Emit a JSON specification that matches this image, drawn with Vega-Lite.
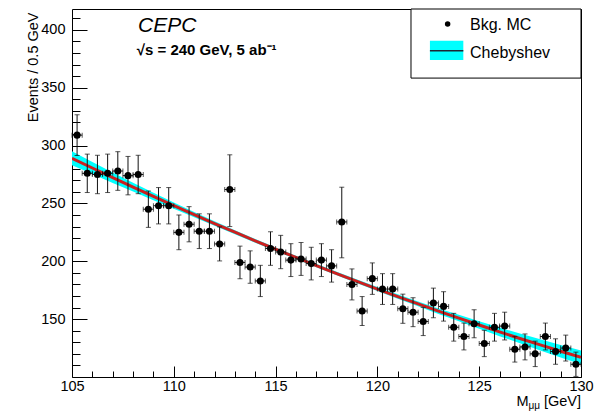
{
  "$schema": "https://vega.github.io/schema/vega-lite/v6.json",
  "width": 509,
  "height": 368,
  "autosize": {"type": "none"},
  "padding": {"left": 72, "top": 9, "right": 13, "bottom": 35},
  "background": "white",
  "datasets": {
    "bins": [
      {"m":105.25,"n":309,"lo":291.4,"hi":326.6,"mlo":105.0,"mhi":105.5},
      {"m":105.75,"n":276,"lo":259.4,"hi":292.6,"mlo":105.5,"mhi":106.0},
      {"m":106.25,"n":275,"lo":258.4,"hi":291.6,"mlo":106.0,"mhi":106.5},
      {"m":106.75,"n":276,"lo":259.4,"hi":292.6,"mlo":106.5,"mhi":107.0},
      {"m":107.25,"n":278,"lo":261.3,"hi":294.7,"mlo":107.0,"mhi":107.5},
      {"m":107.75,"n":274,"lo":257.4,"hi":290.6,"mlo":107.5,"mhi":108.0},
      {"m":108.25,"n":275,"lo":258.4,"hi":291.6,"mlo":108.0,"mhi":108.5},
      {"m":108.75,"n":245,"lo":229.3,"hi":260.7,"mlo":108.5,"mhi":109.0},
      {"m":109.25,"n":248,"lo":232.3,"hi":263.7,"mlo":109.0,"mhi":109.5},
      {"m":109.75,"n":248,"lo":232.3,"hi":263.7,"mlo":109.5,"mhi":110.0},
      {"m":110.25,"n":225,"lo":210.0,"hi":240.0,"mlo":110.0,"mhi":110.5},
      {"m":110.75,"n":232,"lo":216.8,"hi":247.2,"mlo":110.5,"mhi":111.0},
      {"m":111.25,"n":226,"lo":211.0,"hi":241.0,"mlo":111.0,"mhi":111.5},
      {"m":111.75,"n":226,"lo":211.0,"hi":241.0,"mlo":111.5,"mhi":112.0},
      {"m":112.25,"n":215,"lo":200.3,"hi":229.7,"mlo":112.0,"mhi":112.5},
      {"m":112.75,"n":262,"lo":230.0,"hi":292.0,"mlo":112.5,"mhi":113.0},
      {"m":113.25,"n":199,"lo":184.9,"hi":213.1,"mlo":113.0,"mhi":113.5},
      {"m":113.75,"n":195,"lo":181.0,"hi":209.0,"mlo":113.5,"mhi":114.0},
      {"m":114.25,"n":183,"lo":169.5,"hi":196.5,"mlo":114.0,"mhi":114.5},
      {"m":114.75,"n":211,"lo":196.5,"hi":225.5,"mlo":114.5,"mhi":115.0},
      {"m":115.25,"n":208,"lo":193.6,"hi":222.4,"mlo":115.0,"mhi":115.5},
      {"m":115.75,"n":201,"lo":186.8,"hi":215.2,"mlo":115.5,"mhi":116.0},
      {"m":116.25,"n":202,"lo":187.8,"hi":216.2,"mlo":116.0,"mhi":116.5},
      {"m":116.75,"n":198,"lo":183.9,"hi":212.1,"mlo":116.5,"mhi":117.0},
      {"m":117.25,"n":201,"lo":186.8,"hi":215.2,"mlo":117.0,"mhi":117.5},
      {"m":117.75,"n":196,"lo":182.0,"hi":210.0,"mlo":117.5,"mhi":118.0},
      {"m":118.25,"n":234,"lo":203.0,"hi":264.0,"mlo":118.0,"mhi":118.5},
      {"m":118.75,"n":180,"lo":166.6,"hi":193.4,"mlo":118.5,"mhi":119.0},
      {"m":119.25,"n":157,"lo":144.5,"hi":169.5,"mlo":119.0,"mhi":119.5},
      {"m":119.75,"n":185,"lo":171.4,"hi":198.6,"mlo":119.5,"mhi":120.0},
      {"m":120.25,"n":176,"lo":162.7,"hi":189.3,"mlo":120.0,"mhi":120.5},
      {"m":120.75,"n":176,"lo":162.7,"hi":189.3,"mlo":120.5,"mhi":121.0},
      {"m":121.25,"n":159,"lo":146.4,"hi":171.6,"mlo":121.0,"mhi":121.5},
      {"m":121.75,"n":156,"lo":143.5,"hi":168.5,"mlo":121.5,"mhi":122.0},
      {"m":122.25,"n":148,"lo":135.8,"hi":160.2,"mlo":122.0,"mhi":122.5},
      {"m":122.75,"n":164,"lo":151.2,"hi":176.8,"mlo":122.5,"mhi":123.0},
      {"m":123.25,"n":161,"lo":148.3,"hi":173.7,"mlo":123.0,"mhi":123.5},
      {"m":123.75,"n":143,"lo":131.0,"hi":155.0,"mlo":123.5,"mhi":124.0},
      {"m":124.25,"n":135,"lo":123.4,"hi":146.6,"mlo":124.0,"mhi":124.5},
      {"m":124.75,"n":146,"lo":133.9,"hi":158.1,"mlo":124.5,"mhi":125.0},
      {"m":125.25,"n":129,"lo":117.6,"hi":140.4,"mlo":125.0,"mhi":125.5},
      {"m":125.75,"n":143,"lo":131.0,"hi":155.0,"mlo":125.5,"mhi":126.0},
      {"m":126.25,"n":144,"lo":132.0,"hi":156.0,"mlo":126.0,"mhi":126.5},
      {"m":126.75,"n":124,"lo":112.9,"hi":135.1,"mlo":126.5,"mhi":127.0},
      {"m":127.25,"n":126,"lo":114.8,"hi":137.2,"mlo":127.0,"mhi":127.5},
      {"m":127.75,"n":120,"lo":109.0,"hi":131.0,"mlo":127.5,"mhi":128.0},
      {"m":128.25,"n":135,"lo":123.4,"hi":146.6,"mlo":128.0,"mhi":128.5},
      {"m":128.75,"n":122,"lo":111.0,"hi":133.0,"mlo":128.5,"mhi":129.0},
      {"m":129.25,"n":125,"lo":113.8,"hi":136.2,"mlo":129.0,"mhi":129.5},
      {"m":129.75,"n":111,"lo":100.5,"hi":121.5,"mlo":129.5,"mhi":130.0}
    ],
    "curve": [
      {"m":105,"f":289.0,"lo":283.0,"hi":295.0},
      {"m":106,"f":280.6,"lo":275.4,"hi":285.8},
      {"m":107,"f":272.2,"lo":267.7,"hi":276.7},
      {"m":108,"f":264.1,"lo":260.3,"hi":267.9},
      {"m":109,"f":256.0,"lo":252.8,"hi":259.2},
      {"m":110,"f":248.1,"lo":245.4,"hi":250.8},
      {"m":111,"f":240.3,"lo":238.0,"hi":242.6},
      {"m":112,"f":232.6,"lo":230.6,"hi":234.6},
      {"m":113,"f":225.1,"lo":223.3,"hi":226.9},
      {"m":114,"f":217.7,"lo":216.1,"hi":219.3},
      {"m":115,"f":210.4,"lo":208.9,"hi":211.9},
      {"m":116,"f":203.3,"lo":201.8,"hi":204.8},
      {"m":117,"f":196.3,"lo":194.8,"hi":197.8},
      {"m":118,"f":189.4,"lo":187.9,"hi":190.9},
      {"m":119,"f":182.6,"lo":181.0,"hi":184.2},
      {"m":120,"f":176.0,"lo":174.3,"hi":177.7},
      {"m":121,"f":169.5,"lo":167.6,"hi":171.4},
      {"m":122,"f":163.2,"lo":161.1,"hi":165.3},
      {"m":123,"f":156.9,"lo":154.5,"hi":159.3},
      {"m":124,"f":150.9,"lo":148.1,"hi":153.7},
      {"m":125,"f":144.9,"lo":141.7,"hi":148.1},
      {"m":126,"f":139.0,"lo":135.3,"hi":142.7},
      {"m":127,"f":133.3,"lo":129.1,"hi":137.5},
      {"m":128,"f":127.8,"lo":123.0,"hi":132.6},
      {"m":129,"f":122.3,"lo":116.9,"hi":127.7},
      {"m":130,"f":117.0,"lo":111.0,"hi":123.0}
    ]
  },
  "resolve": {"axis": {"x": "independent", "y": "independent"}},
  "layer": [
    {
      "data": {"name": "curve"},
      "mark": {"type": "area", "color": "#00ffff", "opacity": 1, "clip": true},
      "encoding": {
        "x": {
          "field": "m", "type": "quantitative",
          "scale": {"domain": [105, 130], "nice": false, "zero": false},
          "axis": {
            "orient": "bottom",
            "title": null,
            "gridOpacity": 0,
            "domainOpacity": 0,
            "values": [105,110,115,120,125,130],
            "offset": -11,
            "tickSize": 11,
            "tickColor": "#000",
            "labelPadding": 2,
            "labelFont": "Liberation Sans",
            "labelFontSize": 14.5,
            "labelColor": "#000",
            "labelFlush": false,
            "labelOverlap": false
          }
        },
        "y": {
          "field": "lo", "type": "quantitative",
          "scale": {"domain": [100, 418], "nice": false, "zero": false},
          "axis": {
            "orient": "left",
            "title": "Events / 0.5 GeV",
            "titleFont": "Liberation Sans",
            "titleFontSize": 14.5,
            "titleFontWeight": "normal",
            "titleColor": "#000",
            "titleAngle": -90,
            "titleX": -50,
            "titleY": 3,
            "titleAlign": "right",
            "titleBaseline": "alphabetic",
            "gridOpacity": 0,
            "domainOpacity": 0,
            "values": [150,200,250,300,350,400],
            "offset": -15,
            "tickSize": 15,
            "tickColor": "#000",
            "labelPadding": 7,
            "labelFont": "Liberation Sans",
            "labelFontSize": 14.5,
            "labelColor": "#000",
            "labelFlush": false,
            "labelOverlap": false
          }
        },
        "y2": {"field": "hi"}
      }
    },
    {
      "data": {"name": "curve"},
      "mark": {"type": "line", "color": "#cc2020", "strokeWidth": 3, "clip": true},
      "encoding": {
        "x": {
          "field": "m", "type": "quantitative",
          "axis": {
            "orient": "bottom",
            "title": null,
            "gridOpacity": 0,
            "domainOpacity": 0,
            "labels": false,
            "tickColor": "#000",
            "values": [106,107,108,109,111,112,113,114,116,117,118,119,121,122,123,124,126,127,128,129],
            "offset": -6,
            "tickSize": 6
          }
        },
        "y": {
          "field": "f", "type": "quantitative",
          "axis": {
            "orient": "left",
            "title": null,
            "gridOpacity": 0,
            "domainOpacity": 0,
            "labels": false,
            "tickColor": "#000",
            "values": [110,120,130,140,160,170,180,190,210,220,230,240,260,270,280,290,310,320,330,340,360,370,380,390,410],
            "offset": -8,
            "tickSize": 8
          }
        }
      }
    },
    {
      "data": {"name": "bins"},
      "mark": {"type": "errorbar", "color": "#111", "thickness": 1, "ticks": {"size": 5, "color": "#111"}},
      "encoding": {
        "x": {"field": "m", "type": "quantitative", "axis": null},
        "y": {"field": "lo", "type": "quantitative", "axis": null},
        "y2": {"field": "hi"}
      }
    },
    {
      "data": {"name": "bins"},
      "mark": {"type": "errorbar", "color": "#111", "thickness": 1, "ticks": {"size": 5, "color": "#111"}},
      "encoding": {
        "x": {"field": "mlo", "type": "quantitative", "axis": null},
        "x2": {"field": "mhi"},
        "y": {"field": "n", "type": "quantitative", "axis": null}
      }
    },
    {
      "data": {"name": "bins"},
      "mark": {"type": "circle", "color": "#000", "size": 50, "opacity": 1},
      "encoding": {
        "x": {"field": "m", "type": "quantitative", "axis": null},
        "y": {"field": "n", "type": "quantitative", "axis": null}
      }
    },
    {
      "data": {"values": [{}]},
      "mark": {"type": "text", "text": "CEPC", "font": "Liberation Sans", "fontSize": 21, "fontStyle": "italic", "align": "left", "baseline": "alphabetic", "color": "#000"},
      "encoding": {"x": {"datum": 108.24, "axis": null}, "y": {"datum": 398.3, "axis": null}}
    },
    {
      "data": {"values": [{}]},
      "mark": {"type": "text", "text": "√s = 240 GeV, 5 ab⁻¹", "font": "Liberation Sans", "fontSize": 15, "fontWeight": "bold", "align": "left", "baseline": "alphabetic", "color": "#000"},
      "encoding": {"x": {"datum": 108.18, "axis": null}, "y": {"datum": 378.2, "axis": null}}
    },
    {
      "data": {"values": [{}]},
      "mark": {"type": "rect", "fill": "#fff", "stroke": "#000", "strokeWidth": 1},
      "encoding": {"x": {"datum": 121.65, "axis": null}, "x2": {"datum": 130}, "y": {"datum": 358.3, "axis": null}, "y2": {"datum": 418}}
    },
    {
      "data": {"values": [{}]},
      "mark": {"type": "circle", "color": "#000", "size": 30, "opacity": 1},
      "encoding": {"x": {"datum": 123.45, "axis": null}, "y": {"datum": 405, "axis": null}}
    },
    {
      "data": {"values": [{}]},
      "mark": {"type": "text", "text": "Bkg. MC", "font": "Liberation Sans", "fontSize": 16, "align": "left", "baseline": "alphabetic", "color": "#000"},
      "encoding": {"x": {"datum": 124.55, "axis": null}, "y": {"datum": 400.2, "axis": null}}
    },
    {
      "data": {"values": [{}]},
      "mark": {"type": "rect", "fill": "#00ffff", "strokeWidth": 0},
      "encoding": {"x": {"datum": 122.58, "axis": null}, "x2": {"datum": 124.22}, "y": {"datum": 373.9, "axis": null}, "y2": {"datum": 390.6}}
    },
    {
      "data": {"values": [{}]},
      "mark": {"type": "rule", "color": "#1c2633", "strokeWidth": 1.5},
      "encoding": {"x": {"datum": 122.58, "axis": null}, "x2": {"datum": 124.22}, "y": {"datum": 381.9, "axis": null}}
    },
    {
      "data": {"values": [{}]},
      "mark": {"type": "text", "text": "Chebyshev", "font": "Liberation Sans", "fontSize": 16, "align": "left", "baseline": "alphabetic", "color": "#000"},
      "encoding": {"x": {"datum": 124.55, "axis": null}, "y": {"datum": 375.9, "axis": null}}
    },
    {
      "data": {"values": [{}]},
      "mark": {"type": "text", "text": "[GeV]", "font": "Liberation Sans", "fontSize": 14.5, "align": "right", "baseline": "alphabetic", "dy": 29.4, "color": "#000"},
      "encoding": {"x": {"datum": 130, "axis": null}, "y": {"datum": 100, "axis": null}}
    },
    {
      "data": {"values": [{}]},
      "mark": {"type": "text", "text": "μμ", "font": "Liberation Sans", "fontSize": 10, "align": "right", "baseline": "alphabetic", "dx": -41, "dy": 32, "color": "#000"},
      "encoding": {"x": {"datum": 130, "axis": null}, "y": {"datum": 100, "axis": null}}
    },
    {
      "data": {"values": [{}]},
      "mark": {"type": "text", "text": "M", "font": "Liberation Sans", "fontSize": 14.5, "align": "right", "baseline": "alphabetic", "dx": -52.5, "dy": 29.4, "color": "#000"},
      "encoding": {"x": {"datum": 130, "axis": null}, "y": {"datum": 100, "axis": null}}
    }
  ],
  "config": {
    "view": {"stroke": "#000", "strokeWidth": 1}
  }
}
